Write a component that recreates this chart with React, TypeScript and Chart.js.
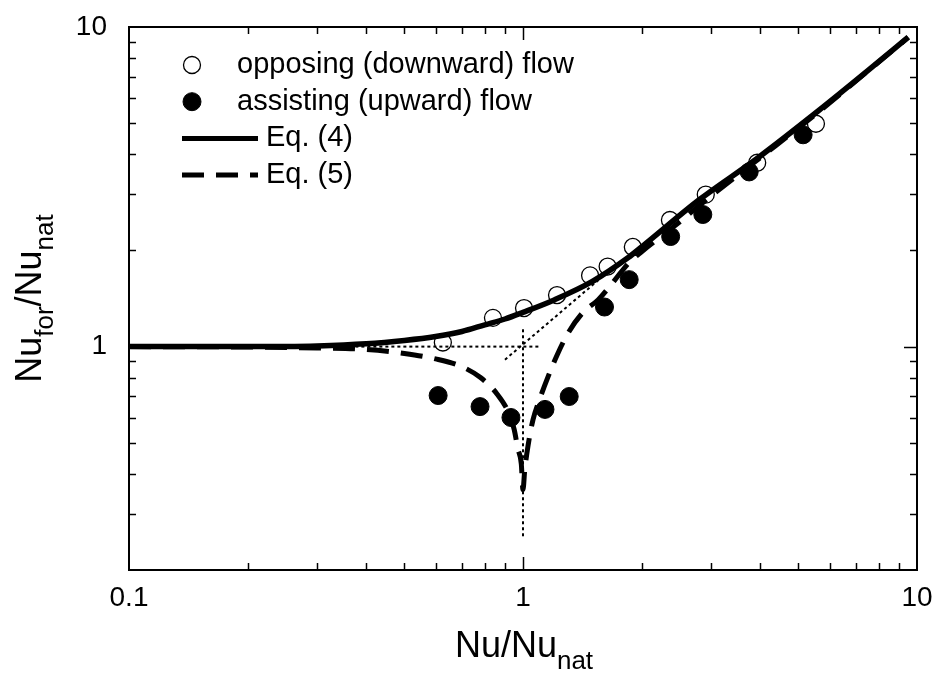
import React, { useEffect, useRef } from "react";
import { Chart, registerables } from "chart.js";

Chart.register(...registerables);

// ---- data ----
const opposingX = [0.626, 0.839, 1.006, 1.22, 1.48, 1.64, 1.9, 2.36, 2.91, 3.93, 5.54];
const opposingY = [1.03, 1.23, 1.32, 1.45, 1.67, 1.78, 2.05, 2.49, 2.99, 3.76, 4.98];

const assistingX = [0.609, 0.778, 0.932, 1.137, 1.31, 1.61, 1.86, 2.37, 2.86, 3.75, 5.14];
const assistingY = [0.703, 0.649, 0.6, 0.636, 0.698, 1.33, 1.62, 2.21, 2.59, 3.52, 4.6];

const eq4X = [0.1, 0.2, 0.3, 0.4, 0.5, 0.6, 0.7, 0.8, 0.9, 1.0, 1.2, 1.5, 1.85, 2.0, 2.8, 3.95, 5.6, 7.5, 9.5];
const eq4Y = [1.0, 1.0, 1.005, 1.02, 1.045, 1.075, 1.115, 1.17, 1.22, 1.28, 1.4, 1.6, 1.9, 2.05, 2.88, 3.9, 5.45, 7.3, 9.3];

const eq5X = [0.1, 0.2, 0.3, 0.4, 0.5, 0.6, 0.7, 0.78, 0.86, 0.92, 0.95, 0.97, 0.99, 1.0, 1.01, 1.03, 1.06, 1.1, 1.16, 1.22, 1.3, 1.42, 1.55, 1.7, 1.85, 2.0, 2.4, 3.0, 4.0, 5.6, 7.5, 9.5];
const eq5Y = [1.0, 0.997, 0.99, 0.98, 0.952, 0.915, 0.865, 0.8, 0.71, 0.62, 0.55, 0.48, 0.43, 0.357, 0.41, 0.49, 0.59, 0.68, 0.81, 0.94, 1.1, 1.28, 1.4, 1.6, 1.82, 1.98, 2.36, 2.96, 3.9, 5.4, 7.28, 9.28];

// dotted guide lines
const guideHX = [0.35, 1.1];
const guideHY = [1.0, 1.0];
const guideVX = [1.0, 1.0];
const guideVY = [0.255, 1.15];
const guideDX = [0.9, 1.65];
const guideDY = [0.91, 1.72];

// axes
const xMin = 0.1;
const xMax = 10;
const yMin = 0.2;
const yMax = 10;
const xLabelValues = [0.1, 1, 10];
const xLabelTexts = ["0.1", "1", "10"];
const yLabelValues = [1, 10];
const yLabelTexts = ["1", "10"];
const xMinorTicks = [0.2, 0.3, 0.4, 0.5, 0.6, 0.7, 0.8, 0.9, 2, 3, 4, 5, 6, 7, 8, 9];
const xMajorTicks = [1];
const yMinorTicks = [0.3, 0.4, 0.5, 0.6, 0.7, 0.8, 0.9, 2, 3, 4, 5, 6, 7, 8, 9];
const yMajorTicks = [1];

const seriesLabels = ["opposing (downward) flow", "assisting (upward) flow", "Eq. (4)", "Eq. (5)"];

const FONT = '"Liberation Sans", Arial, Helvetica, sans-serif';

const pts = (xs: number[], ys: number[]) => xs.map((x, i) => ({ x, y: ys[i] }));

const zeroPad = (s: any) => {
  s.paddingTop = 0;
  s.paddingBottom = 0;
  s.paddingLeft = 0;
  s.paddingRight = 0;
};

const decorPlugin = {
  id: "decor",
  beforeDatasetsDraw(chart: any) {
    const { ctx, chartArea: a, scales } = chart;
    const xs = scales.x;
    const ys = scales.y;
    ctx.save();
    ctx.strokeStyle = "#000";
    ctx.lineWidth = 2;
    ctx.strokeRect(a.left, a.top, a.right - a.left, a.bottom - a.top);
    ctx.lineWidth = 1.5;
    const seg = (x1: number, y1: number, x2: number, y2: number) => {
      ctx.beginPath();
      ctx.moveTo(x1, y1);
      ctx.lineTo(x2, y2);
      ctx.stroke();
    };
    const doX = (vals: number[], len: number) => {
      for (const v of vals) {
        const p = Math.round(xs.getPixelForValue(v)) + 0.5;
        seg(p, a.bottom, p, a.bottom - len);
        seg(p, a.top, p, a.top + len);
      }
    };
    const doY = (vals: number[], len: number) => {
      for (const v of vals) {
        const p = Math.round(ys.getPixelForValue(v)) + 0.5;
        seg(a.left, p, a.left + len, p);
        seg(a.right, p, a.right - len, p);
      }
    };
    doX(xMinorTicks, 7);
    doX(xMajorTicks, 13);
    doY(yMinorTicks, 7);
    doY(yMajorTicks, 13);
    ctx.restore();
  },
  afterDraw(chart: any) {
    const { ctx, chartArea: a } = chart;
    ctx.save();
    ctx.fillStyle = "#000";
    ctx.strokeStyle = "#000";

    // axis titles with subscripts
    const main = `36px ${FONT}`;
    const sub = `26px ${FONT}`;
    const drawParts = (parts: [string, boolean][], cx: number, baseline: number) => {
      let total = 0;
      const widths = parts.map(([t, s]) => {
        ctx.font = s ? sub : main;
        const w = ctx.measureText(t).width;
        total += w;
        return w;
      });
      let x = cx - total / 2;
      ctx.textAlign = "left";
      ctx.textBaseline = "alphabetic";
      parts.forEach(([t, s], i) => {
        ctx.font = s ? sub : main;
        ctx.fillText(t, x, baseline + (s ? 12 : 0));
        x += widths[i];
      });
    };
    drawParts(
      [
        ["Nu/Nu", false],
        ["nat", true],
      ],
      (a.left + a.right) / 2 + 1,
      657
    );
    ctx.save();
    ctx.translate(41, (a.top + a.bottom) / 2);
    ctx.rotate(-Math.PI / 2);
    drawParts(
      [
        ["Nu", false],
        ["for", true],
        ["/Nu", false],
        ["nat", true],
      ],
      0,
      0
    );
    ctx.restore();

    // legend
    const ds = chart.data.datasets;
    const symX = a.left + 63;
    const rowY = (i: number) => a.top + 38 + i * 36.7;
    ctx.font = `29px ${FONT}`;
    ctx.textBaseline = "middle";
    ctx.textAlign = "left";
    for (let i = 0; i < 4; i++) {
      const d = ds[i];
      const y = rowY(i);
      if (i < 2) {
        ctx.beginPath();
        ctx.arc(symX, y, d.pointRadius, 0, Math.PI * 2);
        ctx.fillStyle = d.pointBackgroundColor;
        ctx.fill();
        ctx.lineWidth = d.pointBorderWidth;
        ctx.strokeStyle = "#000";
        ctx.stroke();
        ctx.fillStyle = "#000";
        ctx.fillText(d.label, symX + 45, y);
      } else {
        ctx.beginPath();
        ctx.lineWidth = 5;
        ctx.setLineDash(d.borderDash || []);
        ctx.lineCap = "butt";
        ctx.moveTo(symX - 10, y);
        ctx.lineTo(symX + 66, y);
        ctx.stroke();
        ctx.setLineDash([]);
        ctx.fillStyle = "#000";
        ctx.fillText(d.label, symX + 74, y);
      }
    }
    ctx.restore();
  },
};

export default function App() {
  const ref = useRef<HTMLCanvasElement | null>(null);

  useEffect(() => {
    if (!ref.current) return;
    const guide = {
      type: "scatter" as const,
      showLine: true,
      borderColor: "#000",
      borderWidth: 2,
      borderDash: [3, 3],
      pointRadius: 0,
      fill: false,
    };
    const chart = new Chart(ref.current, {
      type: "scatter",
      data: {
        datasets: [
          {
            label: seriesLabels[0],
            data: pts(opposingX, opposingY),
            pointRadius: 8.5,
            pointBackgroundColor: "rgba(255,255,255,0)",
            pointBorderColor: "#000",
            pointBorderWidth: 1.3,
            showLine: false,
            order: 1,
          },
          {
            label: seriesLabels[1],
            data: pts(assistingX, assistingY),
            pointRadius: 9,
            pointBackgroundColor: "#000",
            pointBorderColor: "#000",
            pointBorderWidth: 1,
            showLine: false,
            order: 0,
          },
          {
            label: seriesLabels[2],
            data: pts(eq4X, eq4Y),
            showLine: true,
            borderColor: "#000",
            borderWidth: 5.5,
            pointRadius: 0,
            cubicInterpolationMode: "monotone",
            order: 3,
          },
          {
            label: seriesLabels[3],
            data: pts(eq5X, eq5Y),
            showLine: true,
            borderColor: "#000",
            borderWidth: 5,
            borderDash: [22, 12],
            pointRadius: 0,
            cubicInterpolationMode: "monotone",
            order: 4,
          },
          { ...guide, label: "h", data: pts(guideHX, guideHY), order: 5 },
          { ...guide, label: "v", data: pts(guideVX, guideVY), order: 5 },
          { ...guide, label: "d", data: pts(guideDX, guideDY), order: 5 },
        ] as any,
      },
      options: {
        responsive: false,
        animation: false,
        devicePixelRatio: 1,
        layout: { padding: { left: 0, right: 20, top: 27, bottom: 0 } },
        plugins: {
          legend: { display: false },
          tooltip: { enabled: false },
        },
        scales: {
          x: {
            type: "logarithmic",
            min: xMin,
            max: xMax,
            position: "bottom",
            grid: { display: false, drawTicks: false },
            border: { display: false },
            afterBuildTicks: (s: any) => {
              s.ticks = xLabelValues.map((v) => ({ value: v }));
            },
            afterFit: (s: any) => {
              s.height = 104;
              zeroPad(s);
            },
            ticks: {
              autoSkip: false,
              maxRotation: 0,
              padding: 11,
              color: "#000",
              font: { size: 28, family: FONT },
              callback: (v: any) => {
                const i = xLabelValues.indexOf(Number(v));
                return i >= 0 ? xLabelTexts[i] : "";
              },
            },
          },
          y: {
            type: "logarithmic",
            min: yMin,
            max: yMax,
            position: "left",
            grid: { display: false, drawTicks: false },
            border: { display: false },
            afterBuildTicks: (s: any) => {
              s.ticks = yLabelValues.map((v) => ({ value: v }));
            },
            afterFit: (s: any) => {
              s.width = 129;
              zeroPad(s);
            },
            ticks: {
              autoSkip: false,
              padding: 22,
              color: "#000",
              font: { size: 28, family: FONT },
              callback: (v: any) => {
                const i = yLabelValues.indexOf(Number(v));
                return i >= 0 ? yLabelTexts[i] : "";
              },
            },
          },
        },
      } as any,
      plugins: [decorPlugin],
    });
    return () => chart.destroy();
  }, []);

  return (
    <div style={{ position: "absolute", left: 0, top: 0, width: 937, height: 674, background: "#fff" }}>
      <canvas ref={ref} width={937} height={674} style={{ display: "block" }} />
    </div>
  );
}
